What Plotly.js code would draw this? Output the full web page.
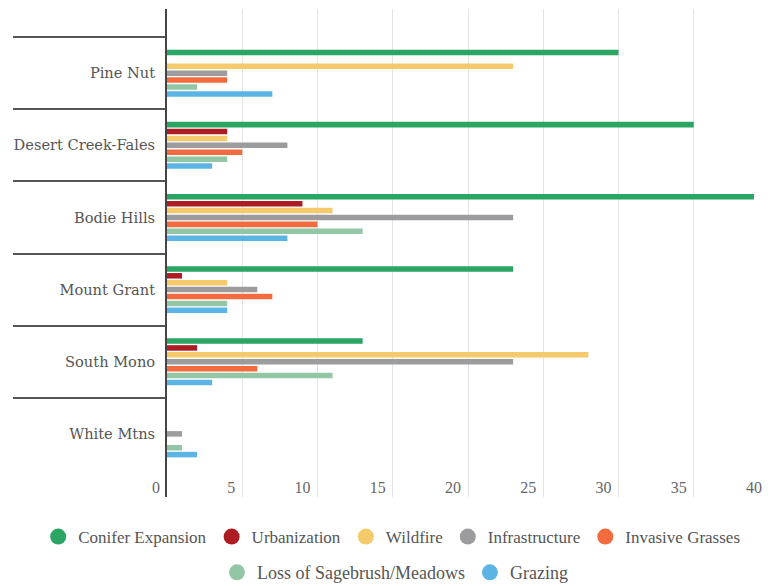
<!DOCTYPE html>
<html>
<head>
<meta charset="utf-8">
<script src="https://cdn.plot.ly/plotly-3.0.1.min.js"></script>
<style>html,body{margin:0;padding:0;background:#fff;}#chart{width:774px;height:586px;}</style>
</head>
<body>
<div id="chart"></div>
<script>
const regions = ["Pine Nut", "Desert Creek-Fales", "Bodie Hills", "Mount Grant", "South Mono", "White Mtns"];
const seriesNames = ["Conifer Expansion", "Urbanization", "Wildfire", "Infrastructure", "Invasive Grasses", "Loss of Sagebrush/Meadows", "Grazing"];
const coniferExpansion = [30, 35, 39, 23, 13, 0];
const urbanization     = [0, 4, 9, 1, 2, 0];
const wildfire         = [23, 4, 11, 4, 28, 0];
const infrastructure   = [4, 8, 23, 6, 23, 1];
const invasiveGrasses  = [4, 5, 10, 7, 6, 0];
const lossOfSagebrush  = [2, 4, 13, 4, 11, 1];
const grazing          = [7, 3, 8, 4, 3, 2];
const xTickValues = [0, 5, 10, 15, 20, 25, 30, 35, 40];

const seriesValues = [coniferExpansion, urbanization, wildfire, infrastructure, invasiveGrasses, lossOfSagebrush, grazing];
const colors = ["#2aa563", "#ad1c22", "#f5ca6c", "#9c9c9e", "#f26b3f", "#93c6a5", "#5cb4e4"];

const traces = [];
seriesValues.forEach((vals, i) => {
  traces.push({
    type: "bar", orientation: "h", name: seriesNames[i],
    y: regions, x: vals,
    marker: {color: colors[i]},
    showlegend: false, hoverinfo: "x+y"
  });
});
seriesValues.forEach((vals, i) => {
  traces.push({
    type: "scatter", mode: "markers", name: seriesNames[i],
    x: [null], y: [null],
    marker: {color: colors[i], size: 16, symbol: "circle"},
    legend: i < 5 ? "legend" : "legend2",
    showlegend: true
  });
});

const legendFont = {family: "Liberation Serif, serif", size: 17, color: "#555"};
const legendFont2 = {family: "Liberation Serif, serif", size: 18, color: "#555"};
const layout = {
  width: 774, height: 586,
  margin: {l: 167, r: 5, t: 9, b: 89, autoexpand: false},
  paper_bgcolor: "#fff", plot_bgcolor: "#fff",
  barmode: "group", bargap: 0.33, bargroupgap: 0.2,
  xaxis: {
    range: [0, 40], tickvals: xTickValues, ticktext: xTickValues.map(String),
    showgrid: true, gridcolor: "#e4e4e4", gridwidth: 1,
    zeroline: false, showline: false, ticks: "",
    ticklabelposition: "outside left", ticklabelstandoff: -21, ticklabelshift: -7, tickangle: 0,
    tickfont: {family: "Liberation Serif, serif", size: 16, color: "#666"},
    automargin: false,
    fixedrange: true
  },
  yaxis: {
    type: "category", categoryorder: "array", categoryarray: regions,
    range: [5.875, -0.89],
    showgrid: false, zeroline: false,
    showline: true, linecolor: "#444", linewidth: 2,
    ticks: "outside", tickson: "boundaries", ticklen: 152, tickwidth: 2, tickcolor: "#555",
    ticklabelstandoff: 7,
    tickfont: {family: "DejaVu Serif, serif", size: 14.6, color: "#555"},
    automargin: false,
    fixedrange: true
  },
  legend: {
    orientation: "h", x: -0.214, xanchor: "left",
    y: -0.082, yanchor: "middle", font: legendFont, bgcolor: "rgba(0,0,0,0)"
  },
  legend2: {
    orientation: "h", x: 0.083, xanchor: "left",
    y: -0.155, yanchor: "middle", font: legendFont2, bgcolor: "rgba(0,0,0,0)"
  },
  showlegend: true
};

Plotly.newPlot("chart", traces, layout, {displayModeBar: false, staticPlot: true});
</script>
</body>
</html>
